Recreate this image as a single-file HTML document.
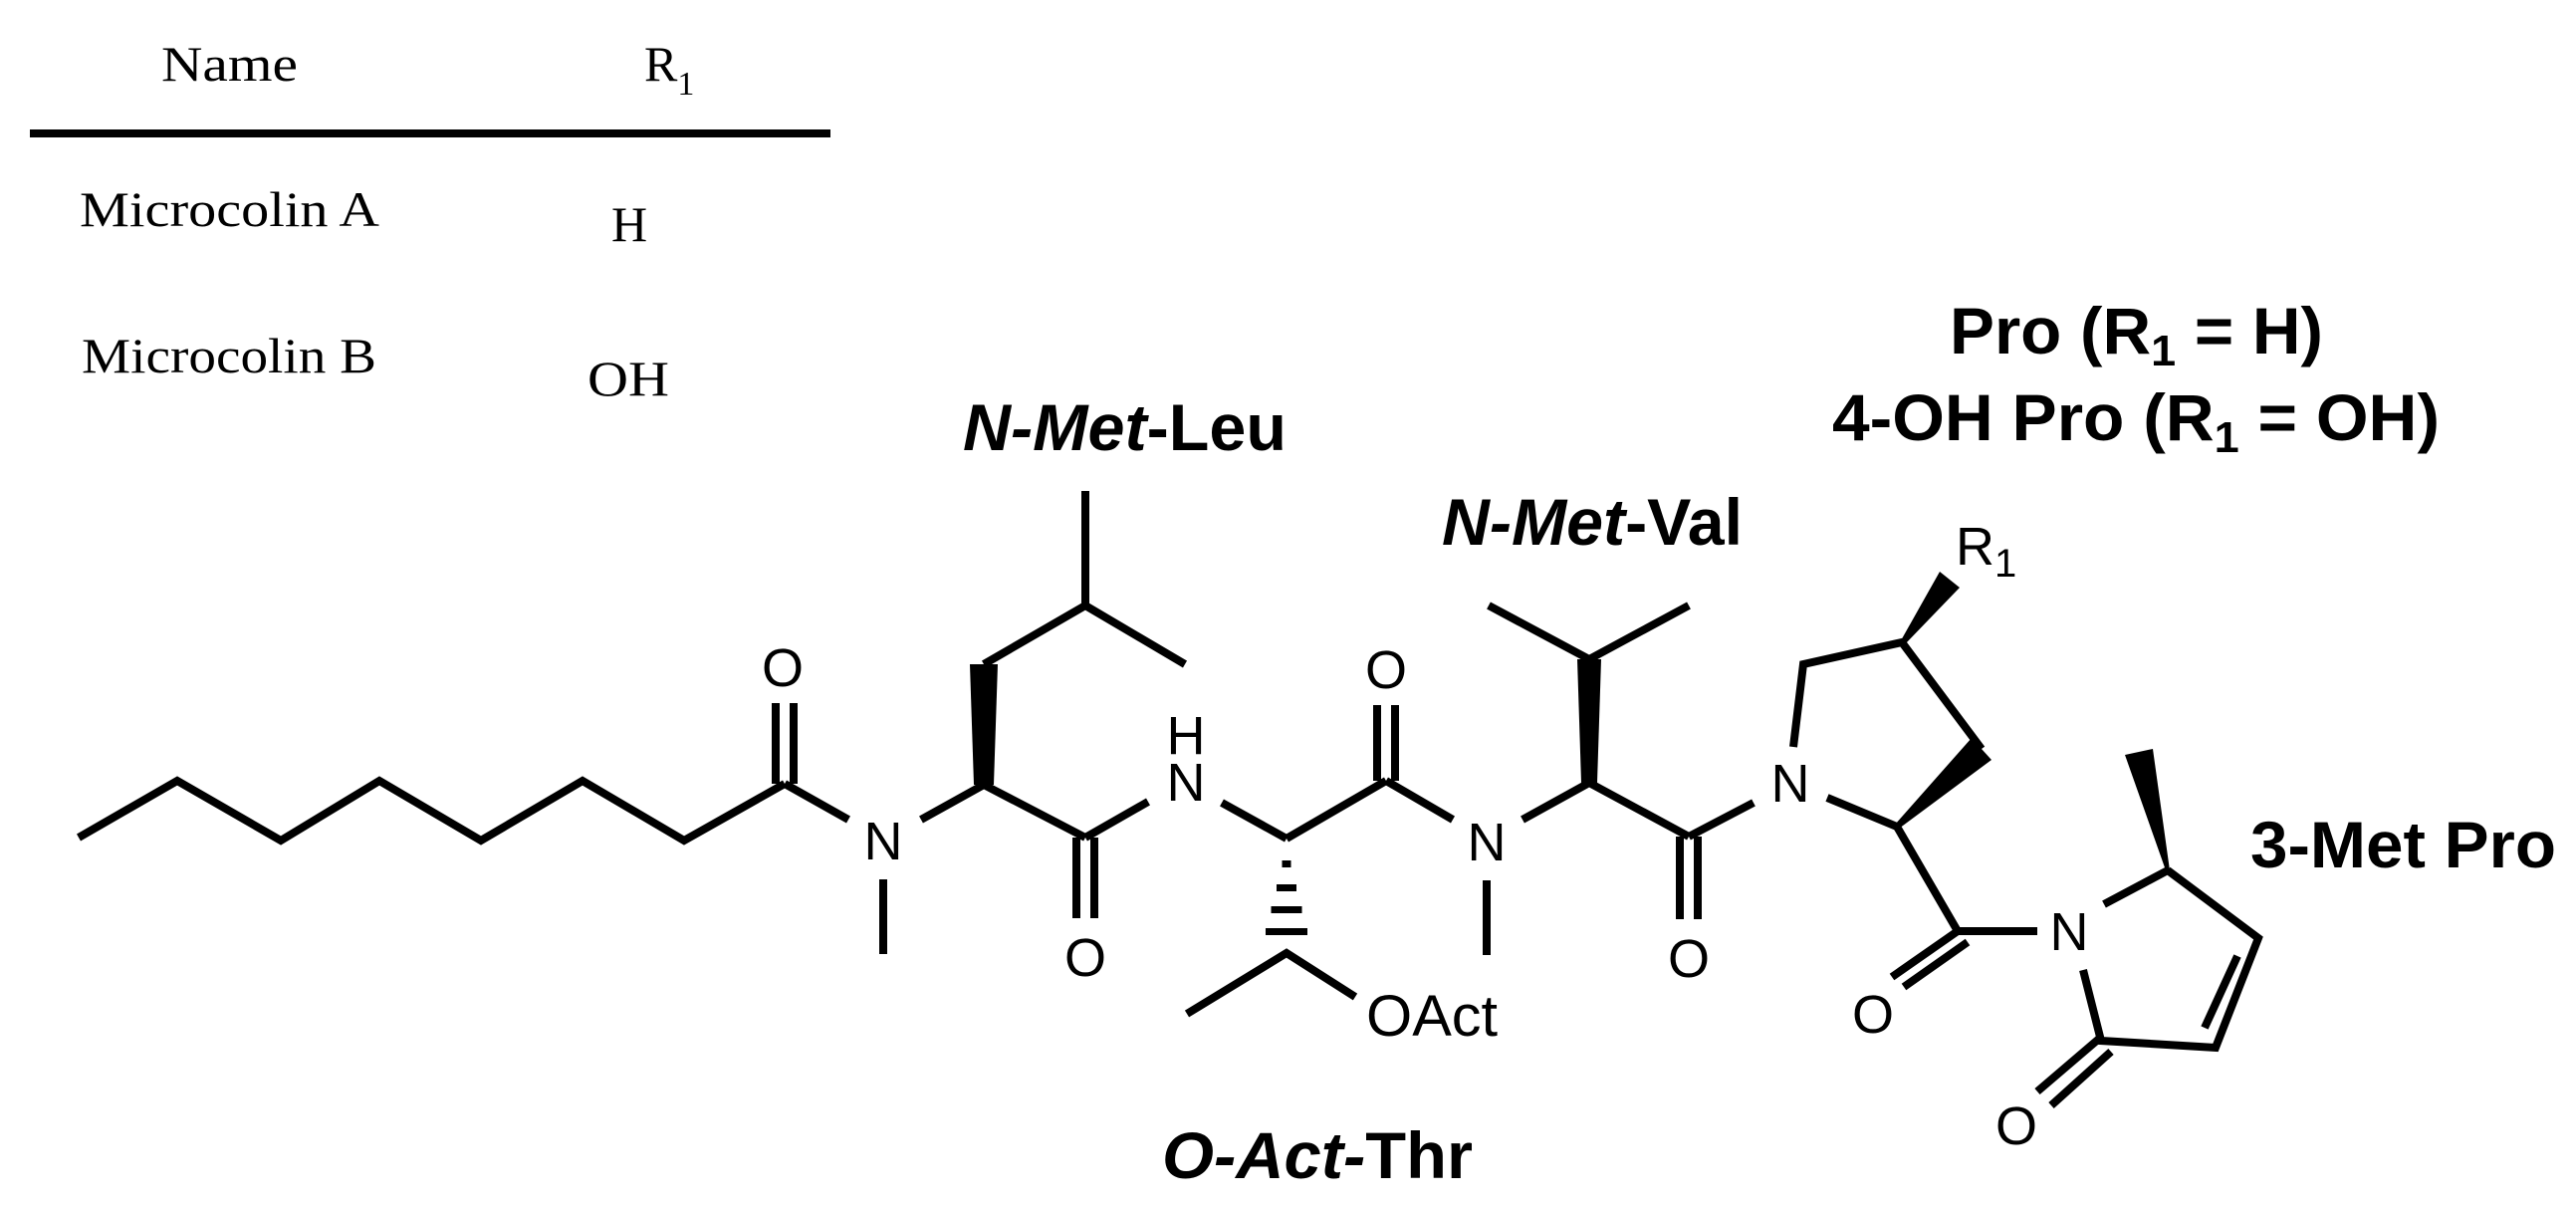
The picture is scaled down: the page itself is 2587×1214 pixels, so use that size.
<!DOCTYPE html>
<html><head><meta charset="utf-8"><style>
html,body{margin:0;padding:0;background:#fff;}
svg{display:block;}
.a{font-family:"Liberation Sans",Arial,sans-serif;font-size:54px;text-anchor:middle;fill:#000;}
.b{font-family:"Liberation Sans",Arial,sans-serif;font-size:66px;font-weight:bold;fill:#000;}
.s{font-family:"Liberation Serif","DejaVu Serif",serif;font-size:50px;fill:#000;}
</style></head><body>
<svg width="2587" height="1214" viewBox="0 0 2587 1214" xmlns="http://www.w3.org/2000/svg">
<rect width="2587" height="1214" fill="#fff"/>
<!-- table -->
<text class="s" x="162" y="81" textLength="137" lengthAdjust="spacingAndGlyphs">Name</text>
<text class="s" x="647" y="81">R<tspan font-size="34" dy="14">1</tspan></text>
<rect x="30" y="130" width="804" height="8" fill="#000"/>
<text class="s" x="80" y="227" textLength="301" lengthAdjust="spacingAndGlyphs">Microcolin A</text>
<text class="s" x="614" y="242">H</text>
<text class="s" x="82" y="374" textLength="296" lengthAdjust="spacingAndGlyphs">Microcolin B</text>
<text class="s" x="590" y="397" textLength="82" lengthAdjust="spacingAndGlyphs">OH</text>

<g stroke="#000" stroke-width="8" fill="none" stroke-linejoin="miter">
<polyline points="79,841 178,784 282,844 381,784 483,844 585,784 687,844 788,787"/>
<line x1="779" y1="706" x2="779" y2="787"/><line x1="797" y1="706" x2="797" y2="787"/>
<line x1="788" y1="787" x2="852" y2="823"/>
<line x1="887" y1="883" x2="887" y2="958"/>
<line x1="925" y1="823" x2="988" y2="788"/>
<polyline points="988,667 1090,608 1190,667"/>
<line x1="1090" y1="608" x2="1090" y2="493"/>
<line x1="988" y1="788" x2="1090" y2="841"/>
<line x1="1081" y1="841" x2="1081" y2="922"/><line x1="1099" y1="841" x2="1099" y2="922"/>
<line x1="1090" y1="841" x2="1153" y2="805"/>
<line x1="1227" y1="806" x2="1292" y2="842"/>
<line x1="1292" y1="842" x2="1392" y2="784"/>
<line x1="1383" y1="708" x2="1383" y2="784"/><line x1="1401" y1="708" x2="1401" y2="784"/>
<line x1="1392" y1="784" x2="1459" y2="823"/>
<line x1="1493" y1="884" x2="1493" y2="959"/>
<line x1="1529" y1="823" x2="1596" y2="786"/>
<polyline points="1495,608 1596,662 1696,608"/>
<line x1="1596" y1="786" x2="1696" y2="840"/>
<line x1="1687" y1="840" x2="1687" y2="923"/><line x1="1705" y1="840" x2="1705" y2="923"/>
<line x1="1696" y1="840" x2="1761" y2="806"/>
<polyline points="1192,1018 1292,957 1361,1001"/>
<polyline points="1801,750 1811,667 1910,645 1990,752"/>
<line x1="1905" y1="830" x2="1835" y2="801"/>
<line x1="1905" y1="830" x2="1966" y2="935"/>
<line x1="1966" y1="935" x2="1900" y2="981"/>
<line x1="1976" y1="946" x2="1912" y2="991"/>
<line x1="1966" y1="935" x2="2046" y2="935"/>
<line x1="2113" y1="908" x2="2177" y2="874"/>
<polyline points="2177,874 2268,942 2225,1052 2110,1045 2092,974"/>
<line x1="2247" y1="960" x2="2214" y2="1032"/>
<line x1="2108" y1="1043" x2="2046" y2="1096"/>
<line x1="2120" y1="1056" x2="2060" y2="1110"/>
</g>
<g fill="#000">
<polygon points="978,788 998,788 1002,667 974,667"/>
<polygon points="1588,786 1604,786 1608,662 1584,662"/>
<polygon points="1908,645 1913,647 1968,590 1948,574"/>
<polygon points="1903,828 1907,832 2000,763 1980,741"/>
<polygon points="2175,874 2179,874 2162,752 2134,758"/>
<rect x="1287.5" y="864" width="9" height="7"/>
<rect x="1282" y="888" width="20" height="7"/>
<rect x="1276.5" y="910" width="31" height="7"/>
<rect x="1271" y="932" width="42" height="7"/>
</g>
<!-- atom labels -->
<text class="a" x="786" y="689">O</text>
<text class="a" x="887" y="863">N</text>
<text class="a" x="1090" y="980">O</text>
<text class="a" x="1191" y="757">H</text>
<text class="a" x="1191" y="804">N</text>
<text class="a" x="1392" y="691">O</text>
<text class="a" x="1493" y="864">N</text>
<text class="a" x="1372" y="1040" style="text-anchor:start;font-size:58px" textLength="132" lengthAdjust="spacingAndGlyphs">OAct</text>
<text class="a" x="1696" y="981">O</text>
<text class="a" x="1798" y="805">N</text>
<text class="a" x="1964" y="567" style="text-anchor:start">R<tspan font-size="40" dy="12">1</tspan></text>
<text class="a" x="1881" y="1037">O</text>
<text class="a" x="2078" y="954">N</text>
<text class="a" x="2025" y="1149">O</text>
<!-- residue labels -->
<text class="b" x="967" y="452" textLength="325" lengthAdjust="spacingAndGlyphs"><tspan font-style="italic">N-Met</tspan>-Leu</text>
<text class="b" x="1448" y="547" textLength="302" lengthAdjust="spacingAndGlyphs"><tspan font-style="italic">N-Met</tspan>-Val</text>
<text class="b" x="1167" y="1183" textLength="312" lengthAdjust="spacingAndGlyphs"><tspan font-style="italic">O-Act-</tspan>Thr</text>
<text class="b" x="2260" y="871" textLength="307" lengthAdjust="spacingAndGlyphs">3-Met Pro</text>
<text class="b" x="1958" y="355" textLength="375" lengthAdjust="spacingAndGlyphs">Pro (R<tspan font-size="44" dy="12">1</tspan><tspan dy="-12"> = H)</tspan></text>
<text class="b" x="1840" y="442" textLength="610" lengthAdjust="spacingAndGlyphs">4-OH Pro (R<tspan font-size="44" dy="12">1</tspan><tspan dy="-12"> = OH)</tspan></text>
</svg>
</body></html>
